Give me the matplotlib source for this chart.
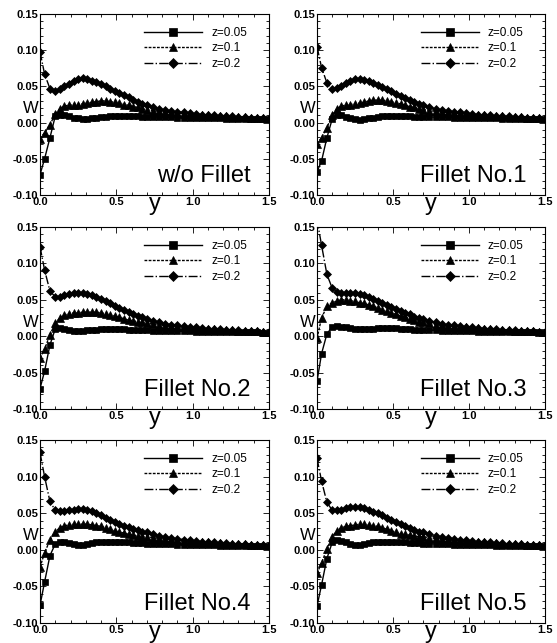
import matplotlib
matplotlib.use('Agg')
import matplotlib.pyplot as plt
from matplotlib.ticker import MultipleLocator, FormatStrFormatter

plt.rcParams['font.family'] = ['Liberation Sans', 'DejaVu Sans']

# stations along y (shared by every curve)
y_grid = [0.0, 0.03, 0.065,
          0.10, 0.13, 0.16, 0.19, 0.22, 0.25, 0.28, 0.31, 0.34, 0.37,
          0.40, 0.43, 0.46, 0.49, 0.52, 0.55, 0.58, 0.61, 0.64, 0.67,
          0.70, 0.74, 0.78, 0.82, 0.86, 0.90, 0.94, 0.98, 1.02, 1.06,
          1.10, 1.14, 1.18, 1.22, 1.26, 1.30, 1.34, 1.38, 1.42, 1.46, 1.50]

# far-field tails (y = 0.70 ... 1.50)
tail_z005 = [0.008, 0.0078, 0.0076, 0.0074, 0.0072, 0.007, 0.0068, 0.0066, 0.0064, 0.0062,
             0.006, 0.0059, 0.0058, 0.0056, 0.0055, 0.0054, 0.0053, 0.0052, 0.0051, 0.005, 0.005]
tail_z005b = [0.0085, 0.0082, 0.008, 0.0078, 0.0075, 0.0072, 0.007, 0.0068, 0.0066, 0.0064,
              0.0062, 0.006, 0.0058, 0.0057, 0.0056, 0.0055, 0.0054, 0.0053, 0.0052, 0.0051, 0.005]
tail_z01 = [0.018, 0.0165, 0.0155, 0.0145, 0.0135, 0.013, 0.012, 0.0115, 0.011, 0.0105,
            0.010, 0.0095, 0.009, 0.0085, 0.008, 0.0078, 0.0074, 0.007, 0.0066, 0.0062, 0.006]
tail_z01b = [0.019, 0.0175, 0.016, 0.015, 0.014, 0.0132, 0.0125, 0.012, 0.0113, 0.0107,
             0.010, 0.0095, 0.009, 0.0086, 0.0082, 0.0078, 0.0074, 0.007, 0.0066, 0.0062, 0.006]
tail_z02 = [0.024, 0.021, 0.019, 0.017, 0.016, 0.015, 0.014, 0.013, 0.012, 0.011,
            0.0105, 0.010, 0.0095, 0.009, 0.0085, 0.008, 0.0075, 0.007, 0.0065, 0.006, 0.0055]

# w/o Fillet
p0_z005 = [-0.072, -0.050, -0.021,
           0.009, 0.011, 0.011, 0.009, 0.007, 0.006, 0.005, 0.005, 0.006, 0.007,
           0.008, 0.008, 0.009, 0.009, 0.009, 0.009, 0.009, 0.0088, 0.0085, 0.0082] + tail_z005
p0_z01 = [-0.022, -0.014, -0.003,
          0.012, 0.019, 0.023, 0.024, 0.025, 0.025, 0.026, 0.027, 0.028, 0.029,
          0.030, 0.030, 0.029, 0.028, 0.027, 0.025, 0.024, 0.022, 0.021, 0.019] + tail_z01
p0_z02 = [0.098, 0.067, 0.047,
          0.044, 0.046, 0.050, 0.054, 0.058, 0.060, 0.061, 0.060, 0.058, 0.056,
          0.053, 0.050, 0.047, 0.044, 0.041, 0.038, 0.035, 0.031, 0.028, 0.026] + tail_z02

# Fillet No.1
p1_z005 = [-0.068, -0.053, -0.021,
           0.005, 0.010, 0.010, 0.008, 0.006, 0.005, 0.004, 0.005, 0.006, 0.007,
           0.008, 0.009, 0.009, 0.009, 0.009, 0.009, 0.0088, 0.0086, 0.0084, 0.0082] + tail_z005
p1_z01 = [-0.029, -0.021, -0.007,
          0.010, 0.019, 0.023, 0.024, 0.025, 0.026, 0.027, 0.028, 0.030, 0.031,
          0.031, 0.031, 0.030, 0.029, 0.027, 0.026, 0.024, 0.022, 0.021, 0.019] + tail_z01
p1_z02 = [0.105, 0.076, 0.055,
          0.046, 0.048, 0.051, 0.055, 0.058, 0.060, 0.060, 0.059, 0.057, 0.055,
          0.052, 0.049, 0.046, 0.043, 0.040, 0.037, 0.034, 0.031, 0.028, 0.026] + tail_z02

# Fillet No.2
p2_z005 = [-0.072, -0.048, -0.012,
           0.010, 0.011, 0.010, 0.008, 0.007, 0.007, 0.007, 0.008, 0.009, 0.009,
           0.010, 0.010, 0.010, 0.010, 0.010, 0.0095, 0.009, 0.009, 0.0085, 0.0082] + tail_z005
p2_z01 = [-0.030, -0.018, 0.002,
          0.018, 0.025, 0.029, 0.031, 0.032, 0.032, 0.033, 0.033, 0.033, 0.033,
          0.032, 0.031, 0.029, 0.028, 0.026, 0.024, 0.022, 0.021, 0.020, 0.019] + tail_z01
p2_z02 = [0.123, 0.091, 0.062,
          0.054, 0.054, 0.056, 0.058, 0.059, 0.059, 0.059, 0.058, 0.056, 0.054,
          0.051, 0.048, 0.045, 0.042, 0.039, 0.036, 0.033, 0.030, 0.028, 0.026] + tail_z02

# Fillet No.3
p3_z005 = [-0.062, -0.024, 0.003,
           0.013, 0.014, 0.013, 0.012, 0.011, 0.010, 0.010, 0.010, 0.010, 0.010,
           0.011, 0.011, 0.011, 0.011, 0.011, 0.010, 0.010, 0.0095, 0.009, 0.0088] + tail_z005b
p3_z01 = [-0.003, 0.025, 0.041,
          0.046, 0.048, 0.050, 0.050, 0.049, 0.048, 0.046, 0.045, 0.043, 0.041,
          0.039, 0.036, 0.034, 0.032, 0.030, 0.028, 0.026, 0.024, 0.022, 0.020] + tail_z01b
p3_z02 = [0.160, 0.125, 0.085,
          0.066, 0.061, 0.059, 0.059, 0.059, 0.059, 0.058, 0.056, 0.054, 0.051,
          0.049, 0.046, 0.043, 0.040, 0.038, 0.035, 0.032, 0.030, 0.027, 0.025] + tail_z02

# Fillet No.4
p4_z005 = [-0.076, -0.044, -0.008,
           0.008, 0.010, 0.010, 0.009, 0.008, 0.007, 0.007, 0.008, 0.009, 0.010,
           0.011, 0.011, 0.011, 0.011, 0.011, 0.010, 0.010, 0.0095, 0.009, 0.0088] + tail_z005b
p4_z01 = [-0.024, -0.004, 0.013,
          0.025, 0.030, 0.033, 0.034, 0.035, 0.035, 0.035, 0.035, 0.034, 0.033,
          0.032, 0.030, 0.028, 0.026, 0.024, 0.023, 0.021, 0.020, 0.019, 0.018] + tail_z01
p4_z02 = [0.133, 0.100, 0.066,
          0.054, 0.053, 0.053, 0.054, 0.055, 0.056, 0.056, 0.055, 0.053, 0.050,
          0.047, 0.044, 0.041, 0.038, 0.035, 0.033, 0.031, 0.029, 0.027, 0.025] + tail_z02

# Fillet No.5
p5_z005 = [-0.077, -0.048, -0.012,
           0.010, 0.013, 0.012, 0.010, 0.008, 0.007, 0.007, 0.008, 0.009, 0.010,
           0.011, 0.011, 0.011, 0.011, 0.011, 0.010, 0.010, 0.0095, 0.009, 0.0088] + tail_z005b
p5_z01 = [-0.032, -0.018, 0.001,
          0.018, 0.026, 0.030, 0.032, 0.033, 0.034, 0.035, 0.035, 0.034, 0.033,
          0.032, 0.030, 0.028, 0.026, 0.024, 0.022, 0.021, 0.020, 0.019, 0.018] + tail_z01
p5_z02 = [0.125, 0.094, 0.065,
          0.054, 0.054, 0.055, 0.057, 0.058, 0.058, 0.058, 0.057, 0.055, 0.052,
          0.050, 0.047, 0.044, 0.041, 0.038, 0.035, 0.032, 0.030, 0.027, 0.025] + tail_z02

panel_names = ['w/o Fillet', 'Fillet No.1', 'Fillet No.2',
               'Fillet No.3', 'Fillet No.4', 'Fillet No.5']
panel_series = [(p0_z005, p0_z01, p0_z02), (p1_z005, p1_z01, p1_z02),
                (p2_z005, p2_z01, p2_z02), (p3_z005, p3_z01, p3_z02),
                (p4_z005, p4_z01, p4_z02), (p5_z005, p5_z01, p5_z02)]
series_labels = ['z=0.05', 'z=0.1', 'z=0.2']
markers = ['s', '^', 'D']
msizes = [4.8, 5.2, 4.4]
lstyles = ['-', (0, (2, 1)), '-.']

W, H = 557, 643
col_left = [40, 317]
col_width = [229, 228]
row_top = [14, 227, 440]
row_bot = [195, 409, 623]

fig = plt.figure(figsize=(W / 100, H / 100), dpi=100)

for i, name in enumerate(panel_names):
    r, c = divmod(i, 2)
    ax = fig.add_axes([col_left[c] / W, 1 - row_bot[r] / H,
                       col_width[c] / W, (row_bot[r] - row_top[r]) / H])
    for vals, lab, m, ms, ls in zip(panel_series[i], series_labels, markers, msizes, lstyles):
        ax.plot(y_grid, vals, color='black', linestyle=ls, linewidth=1.0,
                marker=m, markersize=ms, markeredgewidth=0.5, label=lab)
    ax.set_xlim(0, 1.5)
    ax.set_ylim(-0.10, 0.15)
    ax.xaxis.set_major_locator(MultipleLocator(0.5))
    ax.xaxis.set_minor_locator(MultipleLocator(0.1))
    ax.yaxis.set_major_locator(MultipleLocator(0.05))
    ax.yaxis.set_minor_locator(MultipleLocator(0.01))
    ax.xaxis.set_major_formatter(FormatStrFormatter('%.1f'))
    ax.yaxis.set_major_formatter(FormatStrFormatter('%.2f'))
    ax.tick_params(which='both', direction='in', top=True, right=True, width=0.6)
    ax.tick_params(which='major', length=4, labelsize=8, pad=1.5)
    ax.tick_params(which='minor', length=2)
    for lbl in ax.get_xticklabels() + ax.get_yticklabels():
        lbl.set_fontweight('bold')
    for sp in ax.spines.values():
        sp.set_linewidth(0.8)

    ax.text(-0.039, 0.453, 'W', transform=ax.transAxes, ha='center', va='baseline', fontsize=12)
    ax.text(0.5, -0.083, 'y', transform=ax.transAxes, ha='center', va='baseline', fontsize=17)
    ax.text(0.92, 0.07, name, transform=ax.transAxes, ha='right', va='baseline', fontsize=17)

    ax.legend(loc='upper left', bbox_to_anchor=(0.455, 0.93), frameon=False,
              fontsize=8.5, handlelength=4.9, handletextpad=0.76, labelspacing=0.3,
              borderaxespad=0, borderpad=0, markerscale=1.15)

fig.savefig('out.png', dpi=100)
